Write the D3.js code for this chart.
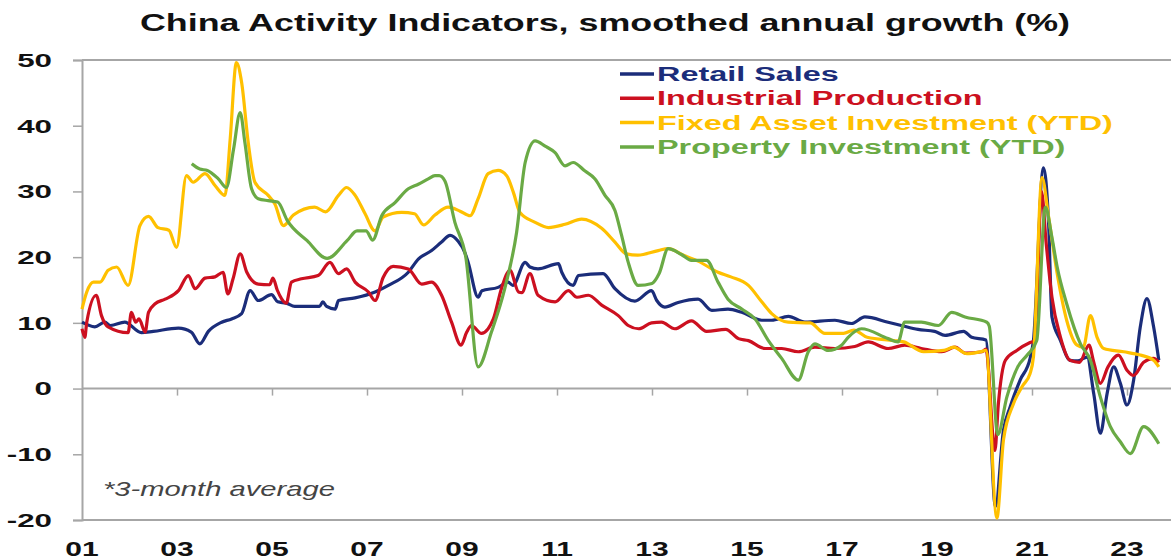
<!DOCTYPE html>
<html>
<head>
<meta charset="utf-8">
<script src="https://cdn.jsdelivr.net/npm/d3@7"></script>
<style>
  body { margin: 0; background: #fff; }
  svg { display: block; font-family: "Liberation Sans", Arial, sans-serif; }
</style>
</head>
<body>
<div id="chart"></div>
<script>
// data: [year, % growth]
const retailSales = [[2001.0,10.1],[2001.27,9.4],[2001.48,10.1],[2001.6,9.6],[2001.9,10.1],[2002.25,8.5],[2002.5,8.7],[2003.03,9.2],[2003.3,8.6],[2003.48,6.8],[2003.66,8.7],[2003.94,10.1],[2004.15,10.6],[2004.36,11.4],[2004.54,14.9],[2004.71,13.4],[2004.99,14.3],[2005.12,13.2],[2005.3,13.0],[2005.48,12.5],[2006.0,12.5],[2006.07,13.2],[2006.15,12.5],[2006.33,12.1],[2006.4,13.4],[2006.75,13.8],[2007.17,14.7],[2007.45,15.7],[2007.87,17.7],[2008.08,19.7],[2008.36,21.0],[2008.57,22.3],[2008.75,23.3],[2008.92,22.4],[2009.06,20.7],[2009.13,19.2],[2009.34,13.9],[2009.42,14.9],[2009.76,15.4],[2009.97,16.2],[2010.07,15.7],[2010.33,19.2],[2010.43,18.5],[2010.6,18.2],[2011.03,19.0],[2011.1,17.7],[2011.34,15.7],[2011.45,17.2],[2011.97,17.5],[2012.22,15.2],[2012.64,13.3],[2012.99,14.9],[2013.1,13.4],[2013.27,12.4],[2013.55,13.1],[2013.97,13.6],[2014.26,11.9],[2014.6,12.1],[2014.89,11.6],[2015.31,10.4],[2015.52,10.4],[2015.87,11.0],[2016.22,10.1],[2016.85,10.4],[2017.2,9.9],[2017.48,10.9],[2017.97,10.1],[2018.25,9.6],[2018.6,9.0],[2018.95,8.7],[2019.17,8.1],[2019.56,8.7],[2019.73,7.8],[2020.03,7.4],[2020.23,-18.0],[2020.4,-6.3],[2020.54,-2.8],[2020.75,1.3],[2020.96,4.6],[2021.03,7.3],[2021.24,33.6],[2021.35,25.1],[2021.42,10.9],[2021.6,7.3],[2021.8,4.3],[2021.96,4.2],[2022.16,4.8],[2022.3,-0.8],[2022.44,-6.8],[2022.58,-0.8],[2022.72,3.3],[2022.86,0.8],[2023.0,-2.5],[2023.14,1.3],[2023.28,9.4],[2023.42,13.7],[2023.56,9.4],[2023.67,4.3]];

const industrialProduction = [[2001.0,9.1],[2001.06,7.8],[2001.1,10.1],[2001.3,14.2],[2001.41,11.1],[2001.55,9.4],[2001.97,8.5],[2002.04,11.6],[2002.13,10.1],[2002.2,10.6],[2002.33,8.6],[2002.4,11.6],[2002.54,12.9],[2002.75,13.6],[2003.03,14.9],[2003.24,17.2],[2003.38,15.2],[2003.59,16.8],[2003.8,17.0],[2003.97,17.7],[2004.07,14.4],[2004.18,16.7],[2004.33,20.5],[2004.47,17.7],[2004.71,15.9],[2004.95,15.8],[2005.02,16.8],[2005.11,15.0],[2005.2,13.7],[2005.3,13.0],[2005.41,16.2],[2005.62,16.7],[2005.97,17.2],[2006.22,19.2],[2006.4,17.5],[2006.57,18.2],[2006.75,16.2],[2007.03,14.7],[2007.17,13.4],[2007.34,16.9],[2007.55,18.6],[2007.87,18.2],[2008.15,15.9],[2008.36,16.2],[2008.57,14.2],[2008.78,10.1],[2008.98,6.6],[2009.1,8.6],[2009.2,9.6],[2009.41,8.4],[2009.66,10.6],[2009.83,15.2],[2010.01,18.0],[2010.19,14.7],[2010.26,14.6],[2010.43,17.5],[2010.6,14.2],[2010.96,13.2],[2011.24,14.9],[2011.42,13.9],[2011.66,14.2],[2011.94,12.7],[2012.29,11.1],[2012.5,9.6],[2012.72,9.1],[2012.99,10.0],[2013.2,10.1],[2013.48,9.1],[2013.83,10.3],[2014.15,8.7],[2014.55,9.0],[2014.82,7.6],[2015.03,7.3],[2015.38,6.1],[2015.73,6.1],[2016.08,5.6],[2016.43,6.3],[2016.85,6.1],[2017.27,6.4],[2017.55,7.1],[2017.97,6.1],[2018.32,6.6],[2018.67,6.1],[2019.1,5.6],[2019.38,6.3],[2019.6,5.4],[2019.95,5.6],[2020.03,6.0],[2020.22,-9.4],[2020.29,-2.5],[2020.44,4.3],[2020.68,5.8],[2020.96,7.0],[2021.06,7.3],[2021.2,30.0],[2021.3,22.0],[2021.42,13.9],[2021.6,7.8],[2021.8,4.3],[2022.0,4.0],[2022.2,6.6],[2022.3,4.0],[2022.44,0.8],[2022.6,3.3],[2022.82,5.1],[2023.0,2.8],[2023.14,2.0],[2023.35,4.0],[2023.56,4.6],[2023.67,4.0]];

const fixedAssetInv = [[2001.0,12.1],[2001.1,14.7],[2001.24,16.2],[2001.38,16.2],[2001.55,18.0],[2001.73,18.5],[2001.97,15.7],[2002.22,24.8],[2002.4,26.2],[2002.6,24.5],[2002.83,24.1],[2002.99,21.5],[2003.2,32.4],[2003.34,31.4],[2003.59,32.7],[2003.8,30.9],[2004.01,29.4],[2004.12,38.0],[2004.25,49.6],[2004.36,46.6],[2004.5,37.4],[2004.64,31.4],[2004.92,29.4],[2005.06,28.1],[2005.24,24.8],[2005.45,26.4],[2005.9,27.6],[2006.13,26.9],[2006.4,29.4],[2006.57,30.6],[2006.75,29.4],[2006.96,26.6],[2007.17,24.0],[2007.34,26.1],[2007.73,26.8],[2008.0,26.6],[2008.19,24.9],[2008.43,26.4],[2008.71,27.6],[2008.96,27.0],[2009.17,26.3],[2009.34,28.9],[2009.55,32.7],[2009.76,33.2],[2009.94,32.4],[2010.08,29.9],[2010.22,26.8],[2010.54,25.3],[2010.82,24.5],[2011.17,25.0],[2011.52,25.8],[2011.94,24.4],[2012.22,22.3],[2012.46,20.5],[2012.7,20.3],[2013.13,21.0],[2013.34,21.3],[2013.69,20.2],[2013.97,19.4],[2014.39,17.7],[2014.66,17.0],[2015.03,15.7],[2015.31,13.2],[2015.52,11.4],[2015.87,10.1],[2016.33,10.0],[2016.64,8.4],[2017.03,8.4],[2017.25,8.9],[2017.53,7.8],[2018.09,7.3],[2018.3,7.1],[2018.72,5.6],[2019.14,5.8],[2019.35,6.3],[2019.63,5.3],[2019.91,5.6],[2020.03,5.8],[2020.26,-19.7],[2020.4,-7.8],[2020.61,-2.3],[2020.8,0.4],[2020.96,2.3],[2021.03,4.8],[2021.21,32.1],[2021.35,26.1],[2021.53,17.5],[2021.73,10.4],[2021.95,6.6],[2022.08,6.3],[2022.23,11.1],[2022.37,7.8],[2022.51,6.1],[2022.93,5.6],[2023.28,5.1],[2023.56,4.3],[2023.67,3.3]];

const propertyInv = [[2003.31,34.2],[2003.48,33.4],[2003.64,33.2],[2003.87,31.9],[2004.04,30.6],[2004.19,36.4],[2004.33,42.0],[2004.43,37.4],[2004.57,30.4],[2004.71,28.9],[2004.92,28.6],[2005.12,28.4],[2005.32,25.6],[2005.74,22.5],[2006.16,19.8],[2006.58,22.5],[2006.79,24.0],[2006.98,24.0],[2007.12,22.6],[2007.31,26.3],[2007.59,28.3],[2007.87,30.4],[2008.08,31.1],[2008.29,31.9],[2008.43,32.4],[2008.52,32.4],[2008.64,31.6],[2008.85,25.3],[2009.08,20.0],[2009.34,3.3],[2009.62,8.6],[2009.9,15.2],[2010.15,23.8],[2010.33,34.4],[2010.54,37.7],[2010.75,36.9],[2010.96,35.9],[2011.17,33.9],[2011.34,34.4],[2011.59,33.1],[2011.8,31.9],[2012.01,29.4],[2012.22,27.1],[2012.36,23.3],[2012.5,19.2],[2012.71,15.7],[2013.0,16.0],[2013.15,17.5],[2013.34,21.3],[2013.62,20.4],[2013.83,19.5],[2014.15,19.5],[2014.39,16.2],[2014.6,13.6],[2014.89,12.1],[2015.17,10.6],[2015.45,7.3],[2015.73,4.6],[2016.08,1.3],[2016.29,5.6],[2016.43,6.8],[2016.71,5.8],[2016.99,6.6],[2017.13,7.8],[2017.41,9.1],[2017.97,7.6],[2018.18,7.1],[2018.32,10.1],[2018.67,10.1],[2019.03,9.6],[2019.31,11.6],[2019.59,10.9],[2020.05,10.1],[2020.1,9.5],[2020.28,-7.0],[2020.47,-1.3],[2020.7,3.3],[2020.9,5.1],[2021.1,7.3],[2021.28,27.6],[2021.42,23.0],[2021.53,18.5],[2021.73,12.9],[2022.02,6.8],[2022.23,4.3],[2022.44,-1.3],[2022.65,-5.8],[2022.86,-8.1],[2023.07,-9.9],[2023.35,-5.8],[2023.67,-8.4]];

const seriesNames = ["Retail Sales", "Industrial Production", "Fixed Asset Investment (YTD)", "Property Investment (YTD)"];
const seriesColors = ["#1b2d7a", "#cc1020", "#ffc000", "#6aaa45"];
const yTicks = [50, 40, 30, 20, 10, 0, -10, -20];
const xTickYears = [2001, 2003, 2005, 2007, 2009, 2011, 2013, 2015, 2017, 2019, 2021, 2023];
const titleText = "China Activity Indicators, smoothed annual growth (%)";
const noteText = "*3-month average";

const allSeries = [retailSales, industrialProduction, fixedAssetInv, propertyInv];

const W = 1171, H = 559;
const margin = { top: 60, right: 0, bottom: 39, left: 82 };
const plotW = W - margin.left - margin.right;
const plotH = H - margin.top - margin.bottom;
const axisGrey = "#a6a6a6";

const svg = d3.select("#chart").append("svg")
    .attr("width", W)
    .attr("height", H);

// the picture is stretched sideways, so text gets a horizontal scale
function stretched(parent, x, y, sx) {
    return parent.append("text")
        .attr("transform", `translate(${x},${y}) scale(${sx},1)`);
}

const x = d3.scaleLinear()
    .domain([2001, 2001 + plotW / 47.5])
    .range([0, plotW]);

const y = d3.scaleLinear()
    .domain([-20, 50])
    .range([plotH, 0]);

const g = svg.append("g")
    .attr("transform", `translate(${margin.left},${margin.top})`);

// frame: top and bottom lines
g.append("line").attr("x1", 0).attr("x2", plotW).attr("y1", 0).attr("y2", 0)
    .attr("stroke", axisGrey).attr("stroke-width", 2);
g.append("line").attr("x1", 0).attr("x2", plotW).attr("y1", plotH).attr("y2", plotH)
    .attr("stroke", axisGrey).attr("stroke-width", 2);

// left axis
const yAxis = g.append("g")
    .call(d3.axisLeft(y).tickValues(yTicks).tickSize(9).tickFormat(""));
yAxis.select(".domain").attr("stroke", axisGrey).attr("stroke-width", 2);
yAxis.selectAll(".tick line").attr("stroke", axisGrey).attr("stroke-width", 1.5);

yTicks.forEach(t => {
    stretched(g, -30, y(t), 1.65)
        .attr("dy", "0.36em")
        .attr("text-anchor", "end")
        .style("font-size", "19px")
        .style("font-weight", "bold")
        .style("fill", "#111")
        .text(t);
});

// zero line with year ticks hanging below
const xAxis = g.append("g")
    .attr("transform", `translate(0,${y(0)})`)
    .call(d3.axisBottom(x).tickValues(xTickYears.slice(1)).tickSize(7).tickFormat(""));
xAxis.select(".domain").attr("stroke", axisGrey).attr("stroke-width", 2).attr("d", `M0,0H${plotW}`);
xAxis.selectAll(".tick line").attr("stroke", axisGrey).attr("stroke-width", 1.5);

xTickYears.forEach(yr => {
    stretched(g, x(yr), plotH + 36, 1.5)
        .attr("text-anchor", "middle")
        .style("font-size", "20px")
        .style("font-weight", "bold")
        .style("fill", "#111")
        .text(String(yr % 100).padStart(2, "0"));
});

// series
const line = d3.line()
    .x(d => x(d[0]))
    .y(d => y(d[1]))
    .curve(d3.curveMonotoneX);

allSeries.forEach((s, i) => {
    g.append("path")
        .datum(s)
        .attr("fill", "none")
        .attr("stroke", seriesColors[i])
        .attr("stroke-width", 3.2)
        .attr("stroke-linejoin", "round")
        .attr("d", line);
});

// legend
const legend = svg.append("g").attr("transform", "translate(620,0)");
seriesNames.forEach((name, i) => {
    const base = 81 + i * 24.3;
    legend.append("line")
        .attr("x1", 0).attr("x2", 34)
        .attr("y1", base - 7).attr("y2", base - 7)
        .attr("stroke", seriesColors[i])
        .attr("stroke-width", 3.5);
    stretched(legend, 37, base, 1.62)
        .style("font-size", "20px")
        .style("font-weight", "bold")
        .style("fill", seriesColors[i])
        .text(name);
});

// note
stretched(svg, 103, 496, 1.46)
    .style("font-size", "20px")
    .style("font-style", "italic")
    .style("fill", "#444")
    .text(noteText);

// title
svg.append("text")
    .attr("x", 605)
    .attr("y", 31)
    .attr("text-anchor", "middle")
    .attr("textLength", 930)
    .attr("lengthAdjust", "spacingAndGlyphs")
    .style("font-size", "23px")
    .style("font-weight", "bold")
    .style("fill", "#111")
    .text(titleText);
</script>
</body>
</html>
